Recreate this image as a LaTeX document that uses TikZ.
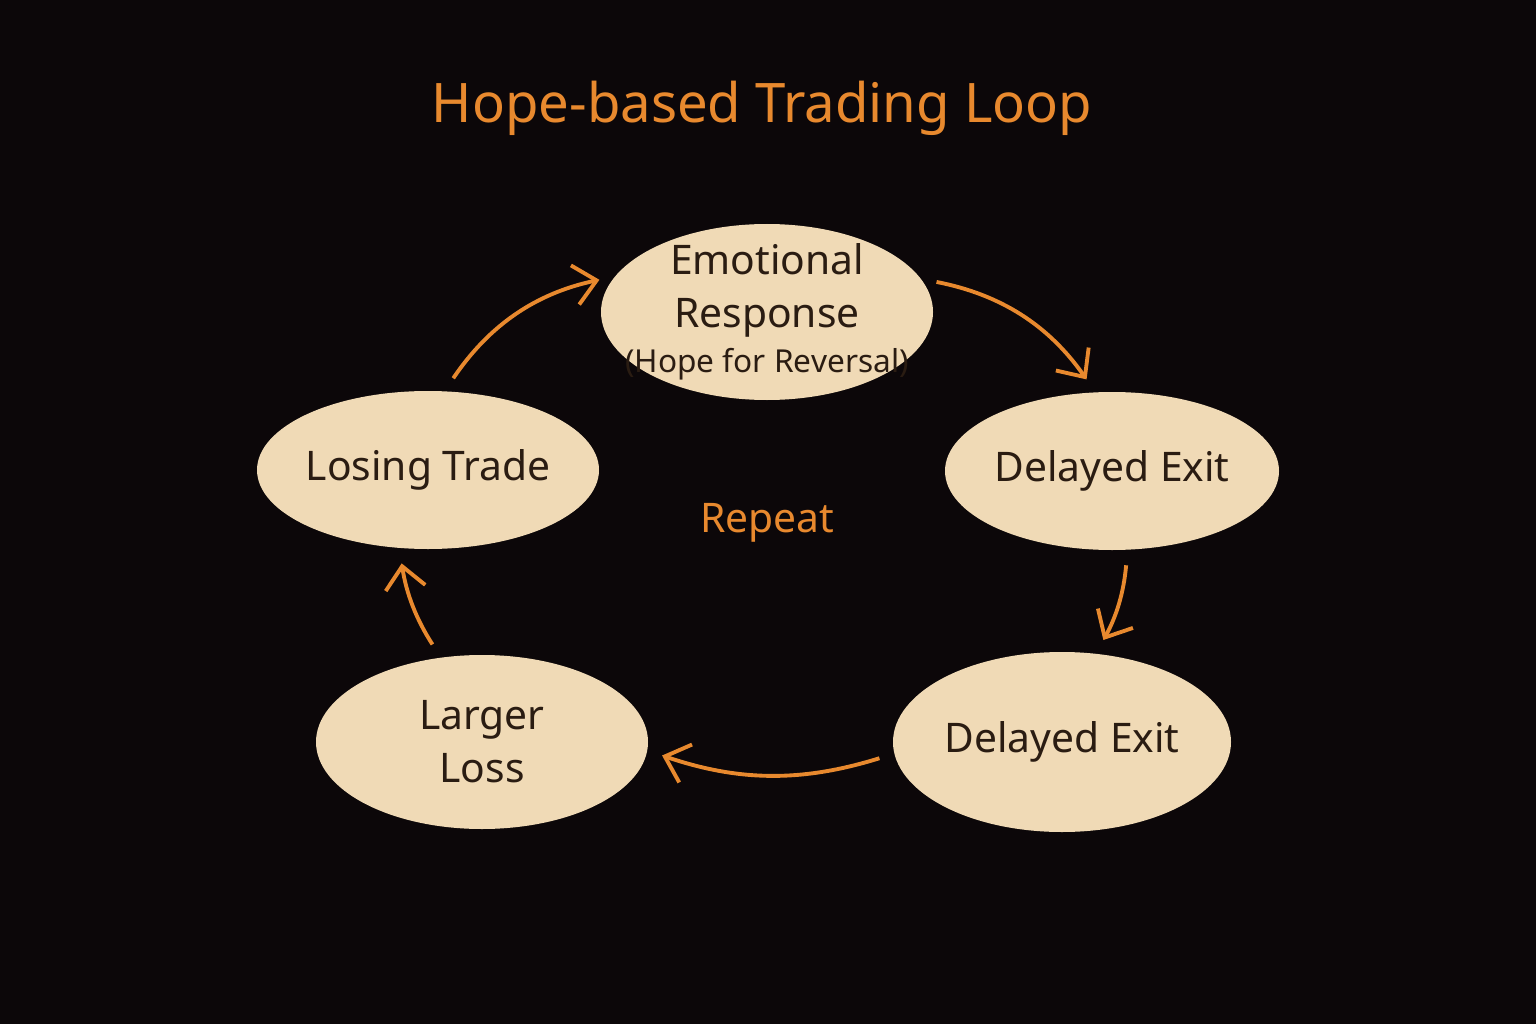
\documentclass[tikz,border=0pt]{standalone}
\usepackage{fontspec}
\setmainfont{Noto Sans}
\usetikzlibrary{shapes.geometric, arrows.meta, positioning}
\definecolor{loopbg}{HTML}{0C0709}
\definecolor{looporange}{HTML}{E8892E}
\definecolor{loopfill}{HTML}{F0DAB6}
\definecolor{looptext}{HTML}{2A1C12}

\begin{document}
\begin{tikzpicture}[
    stage/.style={ellipse, fill=loopfill, text=looptext, minimum width=#1, font=\fontsize{11.6}{14}\selectfont, align=center, inner sep=-0.3cm},
    stage/.default=3.34cm,
    cycle/.style={draw=looporange, line width=1.1pt, -{Straight Barb[length=2.2mm, width=4mm]}, shorten <=1.5mm, shorten >=1.5mm},
]
\fill[loopbg] (0,0) rectangle (15.36,10.24);
\useasboundingbox (0,0) rectangle (15.36,10.24);

\node[font=\fontsize{15.5}{18}\selectfont\bfseries, text=looporange] (title) at (7.62,9.16) {Hope-based Trading Loop};

% the five stages
\node[stage=3.32cm, minimum height=1.76cm] (emo) at (7.67,7.12) {Emotional\\[1pt]Response\\[-1pt]{\fontsize{9}{11}\selectfont (Hope for Reversal)}};
\node[stage=3.34cm, minimum height=1.58cm] (exitA) at (11.12,5.53) {Delayed Exit};
\node[stage=3.38cm, minimum height=1.80cm] (exitB) at (10.62,2.82) {Delayed Exit};
\node[stage=3.32cm, minimum height=1.74cm] (loss) at (4.82,2.82) {Larger\\[1pt]Loss};
\node[stage=3.42cm, minimum height=1.58cm] (lose) at (4.28,5.54) {Losing Trade};

\node[font=\fontsize{11.6}{14}\selectfont, text=looporange] (repeat) at (7.67,5.01) {Repeat};

% arrows round the loop
\draw[cycle] (lose.78) to[bend left=22] (emo.167);
\draw[cycle] (emo.12) to[bend left=22] (exitA.102);
\draw[cycle] (exitA.-79) to[bend left=12] (exitB.69);
\draw[cycle] (exitB.184) to[bend left=18] (loss.-3);
\draw[cycle] (loss.116) to[bend left=12] (lose.250);
\end{tikzpicture}
\end{document}
